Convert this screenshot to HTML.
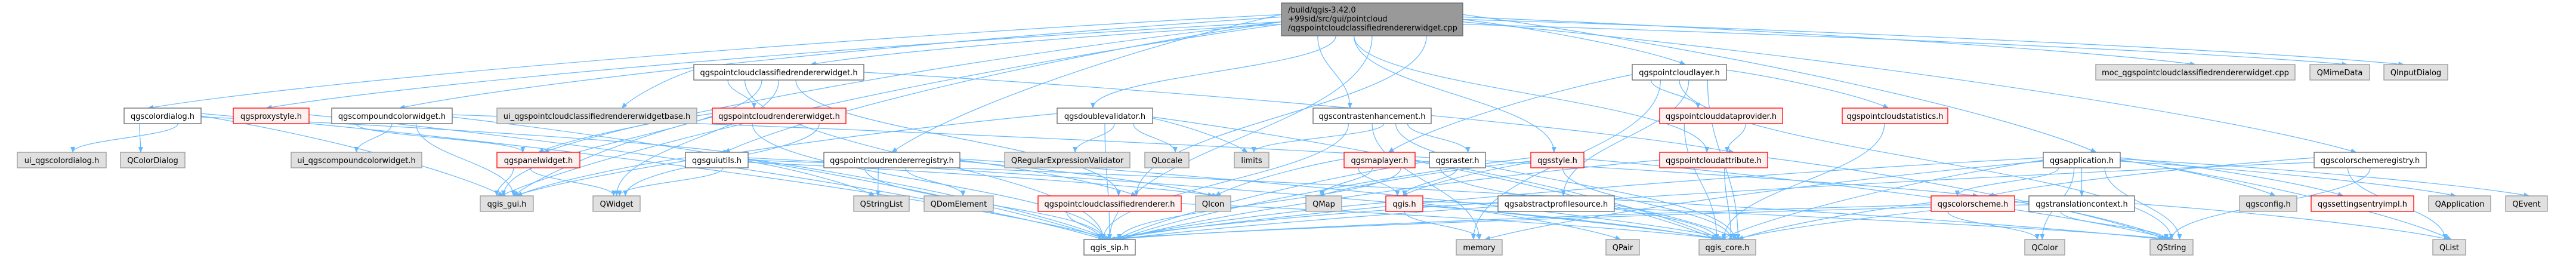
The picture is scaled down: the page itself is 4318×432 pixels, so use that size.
<!DOCTYPE html>
<html><head><meta charset="utf-8"><style>
html,body{margin:0;padding:0;background:#fff;}
svg{display:block;}
text{font-family:"DejaVu Sans","Liberation Sans",sans-serif;font-size:13px;fill:#000;}
.w{fill:#fff;stroke:#666;stroke-width:1.3}
.g{fill:#e0e0e0;stroke:#999;stroke-width:1.3}
.r{fill:#fff0f0;stroke:#f00;stroke-width:1.3}
.e{fill:none;stroke:#63b8ff;stroke-width:1.2}
</style></head><body>
<svg id="s" width="4318" height="432" viewBox="0 0 4318 432" xmlns="http://www.w3.org/2000/svg">
<defs><marker id="a" markerWidth="10" markerHeight="8" refX="9" refY="4" orient="auto" markerUnits="userSpaceOnUse"><path d="M0,0 L10,4 L0,8 z" fill="#63b8ff"/></marker></defs>
<g id="edges"></g>
<g id="nodes">
<rect x="2148" y="5" width="304" height="55" fill="#999" stroke="#666" stroke-width="1.3"/>
<text x="2159" y="21">/build/qgis-3.42.0</text>
<text x="2159" y="36">+99sid/src/gui/pointcloud</text>
<text x="2159" y="51">/qgspointcloudclassifiedrendererwidget.cpp</text>

<rect class="w" x="1163" y="108" width="285" height="26"/><text x="1305.5" y="126" text-anchor="middle">qgspointcloudclassifiedrendererwidget.h</text>
<rect class="w" x="2736" y="108" width="158" height="26"/><text x="2815" y="126" text-anchor="middle">qgspointcloudlayer.h</text>
<rect class="g" x="3513" y="108" width="334" height="26"/><text x="3680" y="126" text-anchor="middle">moc_qgspointcloudclassifiedrendererwidget.cpp</text>
<rect class="g" x="3872" y="108" width="100" height="26"/><text x="3922" y="126" text-anchor="middle">QMimeData</text>
<rect class="g" x="3996" y="108" width="107" height="26"/><text x="4049.5" y="126" text-anchor="middle">QInputDialog</text>

<rect class="w" x="208" y="181" width="129" height="26"/><text x="272.5" y="199" text-anchor="middle">qgscolordialog.h</text>
<rect class="r" x="391" y="181" width="127" height="26"/><text x="454.5" y="199" text-anchor="middle">qgsproxystyle.h</text>
<rect class="w" x="556" y="181" width="202" height="26"/><text x="657" y="199" text-anchor="middle">qgscompoundcolorwidget.h</text>
<rect class="g" x="833" y="181" width="335" height="26"/><text x="1000.5" y="199" text-anchor="middle">ui_qgspointcloudclassifiedrendererwidgetbase.h</text>
<rect class="r" x="1194" y="181" width="224" height="26"/><text x="1306" y="199" text-anchor="middle">qgspointcloudrendererwidget.h</text>
<rect class="w" x="1772" y="181" width="160" height="26"/><text x="1852" y="199" text-anchor="middle">qgsdoublevalidator.h</text>
<rect class="w" x="2201" y="181" width="198" height="26"/><text x="2300" y="199" text-anchor="middle">qgscontrastenhancement.h</text>
<rect class="r" x="2782" y="181" width="206" height="26"/><text x="2885" y="199" text-anchor="middle">qgspointclouddataprovider.h</text>
<rect class="r" x="3088" y="181" width="177" height="26"/><text x="3176.5" y="199" text-anchor="middle">qgspointcloudstatistics.h</text>

<rect class="g" x="29" y="255" width="149" height="26"/><text x="103.5" y="273" text-anchor="middle">ui_qgscolordialog.h</text>
<rect class="g" x="202" y="255" width="108" height="26"/><text x="256" y="273" text-anchor="middle">QColorDialog</text>
<rect class="g" x="488" y="255" width="219" height="26"/><text x="597.5" y="273" text-anchor="middle">ui_qgscompoundcolorwidget.h</text>
<rect class="r" x="833" y="255" width="139" height="26"/><text x="902.5" y="273" text-anchor="middle">qgspanelwidget.h</text>
<rect class="w" x="1149" y="255" width="105" height="26"/><text x="1201.5" y="273" text-anchor="middle">qgsguiutils.h</text>
<rect class="w" x="1381" y="255" width="228" height="26"/><text x="1495" y="273" text-anchor="middle">qgspointcloudrendererregistry.h</text>
<rect class="g" x="1684" y="255" width="210" height="26"/><text x="1789" y="273" text-anchor="middle">QRegularExpressionValidator</text>
<rect class="g" x="1919" y="255" width="74" height="26"/><text x="1956" y="273" text-anchor="middle">QLocale</text>
<rect class="g" x="2069" y="255" width="58" height="26"/><text x="2098" y="273" text-anchor="middle">limits</text>
<rect class="r" x="2253" y="255" width="119" height="26"/><text x="2312.5" y="273" text-anchor="middle">qgsmaplayer.h</text>
<rect class="w" x="2396" y="255" width="94" height="26"/><text x="2443" y="273" text-anchor="middle">qgsraster.h</text>
<rect class="r" x="2566" y="255" width="89" height="26"/><text x="2610.5" y="273" text-anchor="middle">qgsstyle.h</text>
<rect class="r" x="2782" y="255" width="181" height="26"/><text x="2872.5" y="273" text-anchor="middle">qgspointcloudattribute.h</text>
<rect class="w" x="3425" y="255" width="129" height="26"/><text x="3489.5" y="273" text-anchor="middle">qgsapplication.h</text>
<rect class="w" x="3879" y="255" width="188" height="26"/><text x="3973" y="273" text-anchor="middle">qgscolorschemeregistry.h</text>

<rect class="g" x="805" y="328" width="89" height="26"/><text x="849.5" y="346" text-anchor="middle">qgis_gui.h</text>
<rect class="g" x="994" y="328" width="79" height="26"/><text x="1033.5" y="346" text-anchor="middle">QWidget</text>
<rect class="g" x="1431" y="328" width="93" height="26"/><text x="1477.5" y="346" text-anchor="middle">QStringList</text>
<rect class="g" x="1549" y="328" width="116" height="26"/><text x="1607" y="346" text-anchor="middle">QDomElement</text>
<rect class="r" x="1740" y="328" width="240" height="26"/><text x="1860" y="346" text-anchor="middle">qgspointcloudclassifiedrenderer.h</text>
<rect class="g" x="2004" y="328" width="59" height="26"/><text x="2033.5" y="346" text-anchor="middle">QIcon</text>
<rect class="g" x="2189" y="328" width="60" height="26"/><text x="2219" y="346" text-anchor="middle">QMap</text>
<rect class="r" x="2323" y="328" width="62" height="26"/><text x="2354" y="346" text-anchor="middle">qgis.h</text>
<rect class="w" x="2511" y="328" width="195" height="26"/><text x="2608.5" y="346" text-anchor="middle">qgsabstractprofilesource.h</text>
<rect class="r" x="3237" y="328" width="140" height="26"/><text x="3307" y="346" text-anchor="middle">qgscolorscheme.h</text>
<rect class="w" x="3401" y="328" width="177" height="26"/><text x="3489.5" y="346" text-anchor="middle">qgstranslationcontext.h</text>
<rect class="g" x="3754" y="328" width="96" height="26"/><text x="3802" y="346" text-anchor="middle">qgsconfig.h</text>
<rect class="r" x="3874" y="328" width="172" height="26"/><text x="3960" y="346" text-anchor="middle">qgssettingsentryimpl.h</text>
<rect class="g" x="4071" y="328" width="104" height="26"/><text x="4123" y="346" text-anchor="middle">QApplication</text>
<rect class="g" x="4200" y="328" width="70" height="26"/><text x="4235" y="346" text-anchor="middle">QEvent</text>

<rect class="w" x="1817" y="401" width="86" height="26"/><text x="1860" y="419" text-anchor="middle">qgis_sip.h</text>
<rect class="g" x="2441" y="401" width="77" height="26"/><text x="2479.5" y="419" text-anchor="middle">memory</text>
<rect class="g" x="2692" y="401" width="56" height="26"/><text x="2720" y="419" text-anchor="middle">QPair</text>
<rect class="g" x="2848" y="401" width="95" height="26"/><text x="2895.5" y="419" text-anchor="middle">qgis_core.h</text>
<rect class="g" x="3394" y="401" width="67" height="26"/><text x="3427.5" y="419" text-anchor="middle">QColor</text>
<rect class="g" x="3604" y="401" width="72" height="26"/><text x="3640" y="419" text-anchor="middle">QString</text>
<rect class="g" x="4078" y="401" width="55" height="26"/><text x="4105.5" y="419" text-anchor="middle">QList</text>
</g>
</svg>
<script>
var N={root:[2148,2452,5,60],pccrw:[1163,1448,108],pcl:[2736,2894,108],moc:[3513,3847,108],mime:[3872,3972,108],inp:[3996,4103,108],
cd:[208,337,181],proxy:[391,518,181],ccw:[556,758,181],uibase:[833,1168,181],pcrw:[1194,1418,181],dv:[1772,1932,181],ce:[2201,2399,181],dp:[2782,2988,181],st:[3088,3265,181],
uicd:[29,178,255],qcd:[202,310,255],uiccw:[488,707,255],panel:[833,972,255],gu:[1149,1254,255],reg:[1381,1609,255],rev:[1684,1894,255],loc:[1919,1993,255],lim:[2069,2127,255],ml:[2253,2372,255],ras:[2396,2490,255],sty:[2566,2655,255],att:[2782,2963,255],app:[3425,3554,255],csr:[3879,4067,255],
gui:[805,894,328],wid:[994,1073,328],sl:[1431,1524,328],dom:[1549,1665,328],pccr:[1740,1980,328],icon:[2004,2063,328],map:[2189,2249,328],qgis:[2323,2385,328],aps:[2511,2706,328],cs:[3237,3377,328],tc:[3401,3578,328],cfg:[3754,3850,328],sei:[3874,4046,328],qapp:[4071,4175,328],ev:[4200,4270,328],
sip:[1817,1903,401],mem:[2441,2518,401],pair:[2692,2748,401],core:[2848,2943,401],col:[3394,3461,401],str:[3604,3676,401],list:[4078,4133,401]};
var E="root cd,root proxy,root ccw,root pccrw,root dv,root reg,root gu,root ce,root sty,root pcl,root app,root csr,root moc,root mime,root inp,root att,root panel,root pccr,root gui,root sip,"+
"pccrw uibase,pccrw pcrw,pccrw gui,pccrw pccr,pccrw att,pccrw sip,pccrw wid,"+
"cd uicd,cd qcd,cd gui,cd sip,cd gu,proxy sip,ccw uiccw,ccw gui,ccw panel,ccw sip,ccw cs,"+
"pcrw wid,pcrw sip,pcrw panel,pcrw gui,panel gui,panel wid,"+
"gu wid,gu gui,gu sl,gu sip,gu icon,gu str,gu core,"+
"dv rev,dv loc,dv lim,dv sip,dv gui,dv core,"+
"reg sl,reg dom,reg pccr,reg sip,reg icon,reg core,pccr sip,pccr core,"+
"ce lim,ce ras,ce sip,ce mem,ce core,ml qgis,ml map,ml icon,ml sip,ml core,ras qgis,ras sip,ras core,"+
"sty qgis,sty core,sty sip,sty map,sty str,pcl ml,pcl dp,pcl st,pcl aps,pcl core,pcl mem,pcl str,dp att,dp core,st core,att core,att sip,att str,"+
"qgis mem,qgis sip,qgis core,qgis pair,qgis str,aps core,aps sip,"+
"app tc,app cfg,app sei,app qapp,app ev,app str,app core,app sip,app mem,app cs,app col,app list,csr cs,csr list,csr str,csr sip,"+
"cs col,cs str,cs sip,cs core,tc str,tc list,tc core,tc sip";
var g=document.getElementById('edges'),h='';
E.split(',').forEach(function(p,i){var a=N[p.split(' ')[0]],b=N[p.split(' ')[1]];
var sb=a[3]||a[2]+26,tt=b[2];var sw=a[1]-a[0],tw=b[1]-b[0];
var off=((i*37)%7-3)/8;
var sx=(a[0]+a[1])/2+off*sw*0.8,tx=(b[0]+b[1])/2+off*tw*0.5;
var dy=tt-sb,sy=sb,c1x=sx,c1y=sb+dy*0.45,c2x=tx,c2y=tt-dy*0.45;
var dx=tx-(a[0]+a[1])/2;
if(Math.abs(dx)>3*(tt-a[2])){
  var top=a[2],bot=a[3]||a[2]+26;
  sy=top+(bot-top)*(0.35+0.3*((i*13)%5)/4);
  sx=dx<0?a[0]:a[1];
  var ddx=tx-sx,ddy=tt-sy;
  c1x=sx+ddx*0.4;c1y=sy+ddy*0.25;
  c2x=tx-ddx*0.15;c2y=tt-ddy*0.3;
}
h+='<path class="e" marker-end="url(#a)" d="M'+sx.toFixed(1)+','+sy.toFixed(1)+' C'+c1x.toFixed(1)+','+c1y.toFixed(1)+' '+c2x.toFixed(1)+','+c2y.toFixed(1)+' '+tx.toFixed(1)+','+tt+'"/>';});
g.innerHTML=h;
</script>
</body></html>
